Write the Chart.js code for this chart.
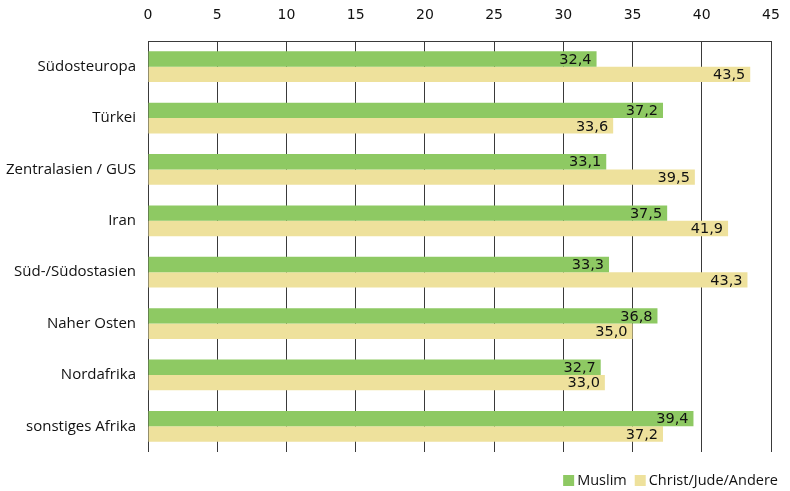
<!DOCTYPE html>
<html>
<head>
<meta charset="utf-8">
<script src="https://cdn.jsdelivr.net/npm/chart.js@4/dist/chart.umd.min.js"></script>
<style>
  html, body { margin: 0; padding: 0; background: #fff; }
  #wrap { width: 790px; height: 491px; position: relative; }
</style>
</head>
<body>
<div id="wrap"><canvas id="chart"></canvas></div>
<script>
/* Herkunftsregion x Religion */
const regions = ['Südosteuropa', 'Türkei', 'Zentralasien / GUS', 'Iran', 'Süd-/Südostasien', 'Naher Osten', 'Nordafrika', 'sonstiges Afrika'];
const muslim = [32.4, 37.2, 33.1, 37.5, 33.3, 36.8, 32.7, 39.4];
const christ = [43.5, 33.6, 39.5, 41.9, 43.3, 35.0, 33.0, 37.2];
const xTicks = [0, 5, 10, 15, 20, 25, 30, 35, 40, 45];

const GREEN = '#8ec963';
const BEIGE = '#eee19c';
const GRID = '#3a3a3a';
const LABEL_FONT = '"Open Sans"';

// labels at the inner end of each bar, comma decimals
const barLabels = {
  id: 'barLabels',
  afterDatasetsDraw(chart) {
    const ctx = chart.ctx;
    ctx.save();
    ctx.font = '14.5px "DejaVu Sans"';
    ctx.fillStyle = '#111';
    ctx.textAlign = 'right';
    ctx.textBaseline = 'middle';
    chart.data.datasets.forEach((ds, i) => {
      chart.getDatasetMeta(i).data.forEach((bar, j) => {
        const txt = ds.data[j].toFixed(1).replace('.', ',');
        ctx.fillText(txt, bar.x - 5, bar.y + 1);
      });
    });
    ctx.restore();
  }
};

// legend bottom right, drawn on the canvas
const bottomLegend = {
  id: 'bottomLegend',
  afterDraw(chart) {
    const ctx = chart.ctx;
    ctx.save();
    ctx.font = '14.5px ' + LABEL_FONT;
    ctx.textBaseline = 'middle';
    ctx.textAlign = 'left';
    let x = 778;
    const y = 481;
    const items = chart.data.datasets.slice().reverse();
    items.forEach((ds, k) => {
      const w = ctx.measureText(ds.label).width;
      x -= w;
      ctx.fillStyle = '#111';
      ctx.fillText(ds.label, x, y);
      x -= 14;
      ctx.fillStyle = ds.backgroundColor;
      ctx.fillRect(x, y - 6, 11, 11);
      x -= 8;
    });
    ctx.restore();
  }
};

new Chart(document.getElementById('chart'), {
  type: 'bar',
  data: {
    labels: regions,
    datasets: [
      { label: 'Muslim', data: muslim, backgroundColor: GREEN },
      { label: 'Christ/Jude/Andere', data: christ, backgroundColor: BEIGE }
    ]
  },
  options: {
    indexAxis: 'y',
    responsive: true,
    maintainAspectRatio: false,
    animation: false,
    layout: { padding: { left: 0, right: 19, top: 0, bottom: 39 } },
    categoryPercentage: 0.6,
    barPercentage: 1.0,
    scales: {
      x: {
        position: 'top',
        min: 0, max: 45,
        afterBuildTicks: ax => { ax.ticks = xTicks.map(v => ({ value: v })); },
        afterFit: ax => { ax.height = 41; ax.paddingRight = 0; ax.paddingLeft = 0; },
        grid: { color: GRID, lineWidth: 1, drawTicks: false },
        border: { display: true, color: GRID, width: 1 },
        ticks: { padding: 17, color: '#111', font: { family: 'DejaVu Sans', size: 14 } }
      },
      y: {
        afterFit: ax => { ax.width = 148; },
        grid: { display: false, drawTicks: false },
        border: { display: false },
        ticks: { padding: 12, color: '#111', font: { family: 'Open Sans', size: 15 } }
      }
    },
    plugins: {
      legend: { display: false },
      tooltip: { enabled: false }
    }
  },
  plugins: [barLabels, bottomLegend]
});
</script>
</body>
</html>
